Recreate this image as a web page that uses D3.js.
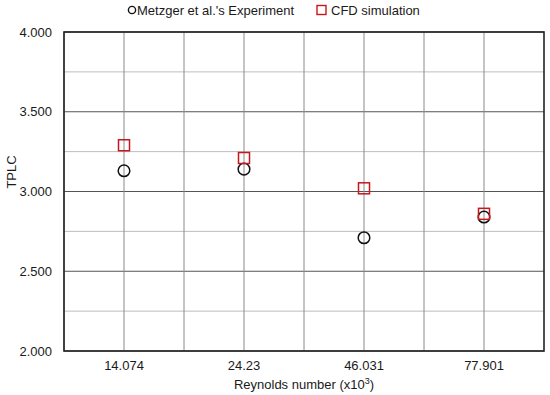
<!DOCTYPE html>
<html>
<head>
<meta charset="utf-8">
<script src="https://cdn.jsdelivr.net/npm/d3@7"></script>
<style>
  body { margin: 0; background: #fff; }
  text { font-family: "Liberation Sans", Arial, sans-serif; fill: #1a1a1a; }
</style>
</head>
<body>
<div id="chart"></div>
<script>
const categories = ['14.074', '24.23', '46.031', '77.901'];
const experiment = [3.13, 3.14, 2.71, 2.84];
const cfd = [3.29, 3.21, 3.02, 2.86];
const yTicks = [2.0, 2.5, 3.0, 3.5, 4.0];

const width = 550, height = 395;
const margin = {top: 32, right: 6, bottom: 44, left: 64};
const w = width - margin.left - margin.right;
const h = height - margin.top - margin.bottom;

const svg = d3.select('#chart')
    .append('svg')
    .attr('width', width)
    .attr('height', height);

const chart = svg.append('g')
    .attr('transform', `translate(${margin.left},${margin.top})`);

const xScale = d3.scaleBand()
    .domain(categories)
    .range([0, w]);
const yScale = d3.scaleLinear()
    .domain([2, 4])
    .range([h, 0]);

// gridlines: minor at quarter steps, major at half steps
const minorY = d3.range(2.25, 4, 0.5);
chart.selectAll('.minor-y')
    .data(minorY)
    .enter()
    .append('line')
    .attr('x1', 0).attr('x2', w)
    .attr('y1', d => yScale(d)).attr('y2', d => yScale(d))
    .attr('stroke', '#bdbdbd')
    .attr('stroke-width', 1);

chart.selectAll('.major-y')
    .data(yTicks)
    .enter()
    .append('line')
    .attr('x1', 0).attr('x2', w)
    .attr('y1', d => yScale(d)).attr('y2', d => yScale(d))
    .attr('stroke', '#555')
    .attr('stroke-width', 1);

// vertical gridlines at band edges and centres
const vx = [];
categories.forEach(c => {
    vx.push(xScale(c));
    vx.push(xScale(c) + xScale.bandwidth() / 2);
});
chart.selectAll('.grid-x')
    .data(vx)
    .enter()
    .append('line')
    .attr('x1', d => d).attr('x2', d => d)
    .attr('y1', 0).attr('y2', h)
    .attr('stroke', '#8a8a8a')
    .attr('stroke-width', 1);

// frame
chart.append('rect')
    .attr('x', 0).attr('y', 0)
    .attr('width', w).attr('height', h)
    .attr('fill', 'none')
    .attr('stroke', '#222')
    .attr('stroke-width', 1.6);

// axes (labels only)
const yAxis = chart.append('g')
    .call(d3.axisLeft(yScale).tickValues(yTicks).tickFormat(d3.format('.3f')).tickSize(0).tickPadding(12));
yAxis.select('.domain').remove();
yAxis.selectAll('text').style('font-size', '13px').attr('fill', '#1a1a1a');

const xAxis = chart.append('g')
    .attr('transform', `translate(0,${h})`)
    .call(d3.axisBottom(xScale).tickSize(0).tickPadding(10));
xAxis.select('.domain').remove();
xAxis.selectAll('text').style('font-size', '13px').attr('fill', '#1a1a1a');

// markers
const cx = c => xScale(c) + xScale.bandwidth() / 2;

chart.selectAll('.exp')
    .data(categories)
    .enter()
    .append('circle')
    .attr('cx', c => cx(c))
    .attr('cy', (c, i) => yScale(experiment[i]))
    .attr('r', 5.8)
    .attr('fill', 'none')
    .attr('stroke', '#111')
    .attr('stroke-width', 1.5);

chart.selectAll('.cfd')
    .data(categories)
    .enter()
    .append('rect')
    .attr('x', c => cx(c) - 5.5)
    .attr('y', (c, i) => yScale(cfd[i]) - 5.5)
    .attr('width', 11)
    .attr('height', 11)
    .attr('fill', 'none')
    .attr('stroke', '#c8161d')
    .attr('stroke-width', 1.5);

// axis titles
const xTitle = svg.append('text')
    .attr('x', margin.left + w / 2)
    .attr('y', 389)
    .attr('text-anchor', 'middle')
    .style('font-size', '13px');
xTitle.append('tspan').text('Reynolds number (x10');
xTitle.append('tspan').attr('dy', -5).style('font-size', '9px').text('3');
xTitle.append('tspan').attr('dy', 5).text(')');

svg.append('text')
    .attr('transform', 'translate(16,172) rotate(-90)')
    .attr('text-anchor', 'middle')
    .style('font-size', '13px')
    .text('TPLC');

// legend
const legend = svg.append('g');
legend.append('circle')
    .attr('cx', 132).attr('cy', 10)
    .attr('r', 3.6)
    .attr('fill', 'none')
    .attr('stroke', '#111')
    .attr('stroke-width', 1.4);
legend.append('text')
    .attr('x', 137).attr('y', 14.5)
    .style('font-size', '13px')
    .text("Metzger et al.'s Experiment");
legend.append('rect')
    .attr('x', 317).attr('y', 5.5)
    .attr('width', 9).attr('height', 9)
    .attr('fill', 'none')
    .attr('stroke', '#c8161d')
    .attr('stroke-width', 1.4);
legend.append('text')
    .attr('x', 331).attr('y', 14.5)
    .style('font-size', '13px')
    .text('CFD simulation');
</script>
</body>
</html>
